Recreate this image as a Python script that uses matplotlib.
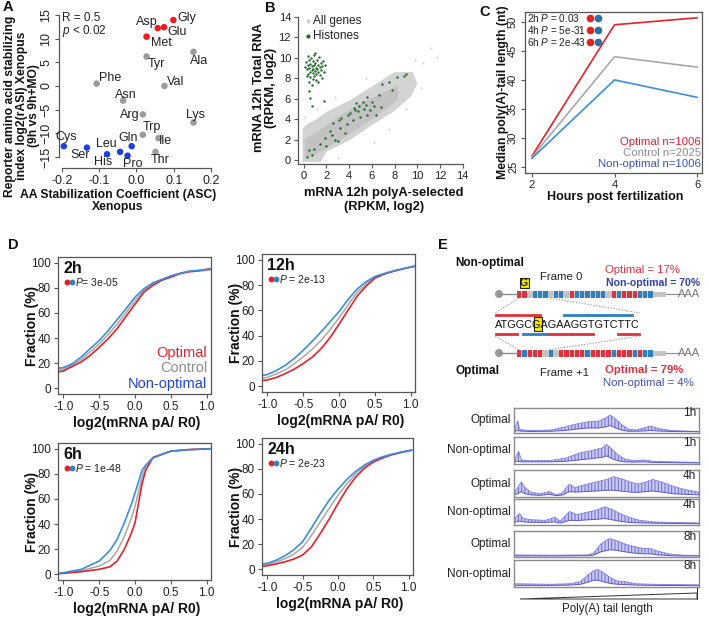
import matplotlib
matplotlib.use('Agg')
import matplotlib.pyplot as plt
from matplotlib.patches import Rectangle, Polygon, Circle

plt.rcParams['font.family'] = ['Liberation Sans', 'DejaVu Sans']
plt.rcParams['mathtext.fontset'] = 'custom'
plt.rcParams['mathtext.rm'] = 'Liberation Sans'
plt.rcParams['mathtext.it'] = 'Liberation Sans:italic'
plt.rcParams['mathtext.bf'] = 'Liberation Sans:bold'
plt.rcParams['hatch.linewidth'] = 0.7
plt.rcParams['hatch.color'] = '#6a6ad8'

W, H = 709, 618

# ---------------- data ----------------
# A: amino acid stabilization
aa_names = ['Gly', 'Asp', 'Glu', 'Met', 'Ala', 'Tyr', 'Phe', 'Val', 'Asn', 'Arg',
            'Lys', 'Trp', 'Ile', 'Thr', 'Cys', 'Ser', 'Gln', 'Leu', 'His', 'Pro']
aa_asc = [0.099, 0.057, 0.074, 0.027, 0.153, 0.027, -0.107, 0.075, -0.036, 0.017,
          0.153, 0.017, 0.059, 0.051, -0.195, -0.133, -0.013, -0.044, -0.079, -0.024]
aa_rasi = [13.9, 12.2, 12.4, 10.4, 7.2, 6.2, 0.5, 0.0, -3.1, -6.0,
           -7.7, -10.3, -11.0, -13.9, -12.7, -13.0, -12.7, -13.9, -14.4, -14.7]
aa_group = ['opt'] * 4 + ['mid'] * 10 + ['non'] * 6

# B: gray cloud outline (all genes) and histone genes
cloud_outer = [(-0.1, -0.2), (1.5, -0.2), (2.0, 0.8), (4.0, 1.9), (6.0, 3.4), (8.0, 4.8),
               (9.5, 6.3), (10.0, 7.5), (9.6, 8.6), (8.0, 8.6), (6.0, 7.2), (4.0, 5.8),
               (2.0, 4.7), (1.0, 3.9), (0.2, 3.4), (-0.1, 3.0)]
cloud_core = [(0.1, 0.1), (1.0, 0.5), (3.0, 1.8), (5.0, 3.2), (7.0, 4.8), (8.3, 5.9),
              (8.3, 7.3), (7.0, 6.6), (5.0, 5.5), (3.0, 4.2), (1.0, 2.6), (0.1, 2.0)]
gray_x = [10.5, 11.2, 9.8, 10.3, 0.1, 1.2, 2.8, 5.5, 6.2, 7.5, 3.0, 11.7, 9.0, 0.5]
gray_y = [9.5, 11.0, 9.8, 7.0, 4.2, 5.0, 6.2, 8.0, 1.8, 3.0, 0.2, 10.1, 5.0, 3.6]
hist_x = [0.2, 0.3, 0.35, 0.4, 0.45, 0.5, 0.55, 0.6, 0.6, 0.65, 0.7, 0.75, 0.8, 0.8, 0.85,
          0.9, 0.9, 0.95, 1.0, 1.0, 1.05, 1.1, 1.15, 1.2, 1.25, 1.3, 1.35, 1.4, 1.45, 1.5,
          1.55, 1.6, 1.7, 1.75, 0.25, 0.5, 0.7, 1.1, 1.3, 0.4, 1.0, 0.8, 1.6, 0.15, 1.85,
          0.6, 1.75, 0.7, 0.5,
          0.3, 0.5, 0.9, 0.7, 1.4, 1.9, 2.3, 2.6, 2.5, 3.0, 3.2, 3.3, 3.6, 3.8, 3.9, 4.1,
          4.3, 4.4, 4.6, 4.8, 4.9, 5.0, 5.2, 5.3, 5.5, 5.6, 5.8, 6.0, 6.2, 6.4, 6.6, 6.8,
          6.9, 7.5, 7.8, 8.2, 8.8, 9.0, 2.0, 2.8, 3.1, 4.5, 5.6]
hist_y = [9.6, 8.9, 9.3, 8.4, 9.8, 9.0, 8.6, 9.4, 8.1, 10.0, 8.8, 9.2, 8.5, 9.7, 8.9,
          9.3, 8.2, 10.3, 8.7, 9.5, 9.0, 8.4, 9.8, 8.9, 9.3, 8.6, 10.1, 9.1, 8.3, 9.5,
          8.8, 9.2, 9.7, 8.6, 8.2, 7.6, 7.3, 7.8, 7.6, 10.2, 10.5, 7.9, 8.0, 9.1, 9.3,
          6.1, 5.8, 5.3, 6.8,
          0.3, 1.0, 1.1, 0.5, 1.6, 2.1, 2.8, 3.6, 2.4, 1.9, 3.1, 4.1, 2.6, 3.5, 4.4, 4.6,
          3.9, 5.1, 5.6, 4.8, 5.3, 4.2, 5.7, 5.0, 5.4, 6.2, 4.9, 5.7, 5.3, 4.4, 6.4, 5.2,
          7.4, 7.6, 6.9, 8.1, 8.2, 8.4, 1.4, 2.0, 3.9, 4.9, 4.4]

# C: median poly(A) tail length
hpf = [2, 4, 6]
med_opt = [26.9, 49.5, 50.7]
med_ctrl = [26.7, 44.0, 42.2]
med_non = [26.5, 40.0, 37.0]
c_hours = ['2h', '4h', '6h']
c_pvals = ['0.03', '5e-31', '2e-43']
c_groups = ['Optimal n=1006', 'Control n=2025', 'Non-optimal n=1006']

# D: cumulative distributions
d_titles = ['2h', '12h', '6h', '24h']
d_pvals = ['$P$= 3e-05', '$P$ = 2e-13', '$P$ = 1e-48', '$P$ = 2e-23']
d_x = [
    [-1.08, -1.0, -0.875, -0.75, -0.625, -0.5, -0.375, -0.25, -0.125, 0, 0.125, 0.25, 0.375, 0.5, 0.625, 0.75, 0.875, 1.0, 1.05],
    [-1.07, -1.0, -0.875, -0.75, -0.625, -0.5, -0.375, -0.25, -0.125, 0, 0.125, 0.25, 0.375, 0.5, 0.625, 0.75, 0.875, 1.0, 1.07],
    [-1.08, -1.0, -0.75, -0.5, -0.35, -0.25, -0.15, -0.05, 0, 0.05, 0.1, 0.15, 0.25, 0.5, 0.75, 1.0, 1.08],
    [-1.075, -1.0, -0.875, -0.75, -0.625, -0.5, -0.375, -0.25, -0.125, 0, 0.125, 0.25, 0.375, 0.5, 0.625, 0.75, 0.875, 1.0, 1.04],
]
d_opt = [
    [13, 13.8, 17.5, 21, 26.3, 32.6, 39.5, 47.5, 57.3, 67, 76.6, 82, 86, 88.5, 91.2, 92.8, 93.5, 94.7, 95.2],
    [4.5, 5, 7, 10, 13.5, 18, 23, 29.7, 38.5, 49, 60, 71, 79, 85.4, 88.5, 90.7, 92.5, 94.2, 95],
    [0.5, 0.8, 2.1, 4, 6, 10.6, 19.8, 33, 41, 57, 72.8, 83, 93, 98, 99.2, 99.8, 100],
    [2.3, 2.9, 4.3, 6, 8.2, 11.4, 18, 28.6, 40, 52.4, 64, 73.5, 80.5, 85.4, 88.5, 91, 92.8, 94.2, 94.7],
]
d_ctrl = [
    [14.5, 15.2, 18.5, 23, 29, 35.3, 42.8, 51, 60.3, 69.8, 78, 83, 86.3, 89, 91.2, 92.7, 93.2, 93.8, 94.2],
    [6.5, 7, 9.8, 13, 17.8, 23.2, 29.3, 36.3, 44.7, 54, 64.2, 74, 80.7, 86, 88.8, 90.8, 92.6, 94.2, 95],
    [0.6, 1, 3, 6.6, 11, 18.5, 30, 45, 54, 66, 78, 86, 92.8, 98, 99.2, 99.8, 100],
    [3.3, 4, 5.8, 8.5, 12, 17.5, 27, 37.8, 48.5, 59, 68, 76, 82, 86, 89, 91.2, 92.9, 94.3, 94.8],
]
d_non = [
    [16, 16.5, 19.6, 25, 31.6, 38, 46, 54.6, 63.4, 72.6, 79.3, 84, 86.7, 89.5, 91.5, 93.2, 93.8, 94.5, 95],
    [8.5, 9.3, 12.5, 16.5, 22, 28.4, 35.5, 43, 51, 59, 68.5, 76.7, 82.5, 86.7, 89, 91, 92.7, 94.2, 95],
    [0.7, 1.3, 4, 10.6, 19, 27.8, 41, 56, 64.8, 74, 83, 87, 92.6, 98, 99.2, 99.8, 100],
    [4.3, 4.8, 7.3, 10.8, 15.5, 22, 33, 44.4, 55, 63.8, 71.5, 78, 83, 86.8, 89.5, 91.5, 93, 94.5, 95],
]

# E: codon schematic
codons_frame0 = ['r', 'r', 'g', 'b', 'b', 'b', 'g', 'b', 'b', 'g', 'r', 'b', 'b',
                 'b', 'b', 'b', 'b', 'g', 'r', 'b', 'r', 'r', 'r', 'b', 'b', 'b']
codons_frame1 = ['r', 'b', 'r', 'r', 'r', 'g', 'b', 'g', 'r', 'r', 'r', 'r', 'r',
                 'b', 'r', 'r', 'r', 'r', 'b', 'r', 'r', 'r', 'b', 'r', 'b', 'b']
seq = 'ATGGCGAGAAGGTGTCTTC'
bars_top = [(0, 3, 'r'), (3, 6, 'r'), (9, 12, 'b'), (12, 15, 'b'), (15, 18, 'b')]
bars_bot = [(0, 3, 'r'), (3.5, 7, 'b'), (7, 10, 'r'), (10, 13, 'r'), (16, 19, 'r')]

# E: poly(A) tail profiles
trace_labels = ['Optimal', 'Non-optimal', 'Optimal', 'Non-optimal', 'Optimal', 'Non-optimal']
trace_hours = ['1h', '1h', '4h', '4h', '8h', '8h']
trace_x = [
    [0, 2, 3, 5, 10, 20, 28, 33, 40, 46, 50, 52, 55, 58, 62, 66, 70, 74, 78, 85, 100],
    [0, 2.5, 4, 8, 20, 28, 35, 42, 48, 50, 53, 56, 60, 65, 70, 75, 85, 100],
    [0, 2, 4, 6, 9, 14, 19, 23, 26, 30, 33, 38, 44, 50, 54, 58, 63, 67, 71, 75, 80, 86, 92, 100],
    [0, 3, 5, 10, 17, 22, 25, 30, 34, 40, 45, 49, 53, 57, 62, 68, 75, 85, 100],
    [0, 20, 40, 43, 47, 50, 52, 56, 60, 65, 70, 74, 78, 85, 92, 100],
    [0, 20, 30, 36, 40, 43, 45, 48, 52, 56, 60, 66, 75, 100],
]
trace_up = [
    [0.08, 0.5, 0.15, 0.12, 0.1, 0.12, 0.25, 0.35, 0.45, 0.48, 0.62, 0.72, 0.55, 0.35, 0.15, 0.12, 0.2, 0.28, 0.18, 0.1, 0.06],
    [0.1, 0.48, 0.15, 0.12, 0.13, 0.22, 0.4, 0.5, 0.6, 0.73, 0.55, 0.35, 0.18, 0.12, 0.15, 0.1, 0.08, 0.06],
    [0.15, 0.35, 0.56, 0.35, 0.18, 0.12, 0.2, 0.08, 0.15, 0.48, 0.35, 0.45, 0.55, 0.65, 0.75, 0.68, 0.55, 0.48, 0.55, 0.65, 0.55, 0.4, 0.28, 0.18],
    [0.2, 0.45, 0.25, 0.2, 0.18, 0.3, 0.15, 0.52, 0.4, 0.5, 0.58, 0.7, 0.6, 0.45, 0.3, 0.18, 0.12, 0.1, 0.08],
    [0.08, 0.07, 0.08, 0.15, 0.5, 0.65, 0.71, 0.62, 0.5, 0.4, 0.33, 0.32, 0.22, 0.1, 0.07, 0.06],
    [0.12, 0.1, 0.12, 0.2, 0.45, 0.6, 0.65, 0.55, 0.35, 0.22, 0.2, 0.12, 0.1, 0.08],
]
trace_lo = [
    [0.05, 0.1, 0.08, 0.07, 0.06, 0.07, 0.1, 0.15, 0.2, 0.2, 0.25, 0.3, 0.2, 0.12, 0.07, 0.07, 0.08, 0.1, 0.08, 0.06, 0.05],
    [0.07, 0.1, 0.08, 0.08, 0.08, 0.1, 0.15, 0.2, 0.25, 0.3, 0.2, 0.12, 0.08, 0.07, 0.08, 0.06, 0.05, 0.04],
    [0.08, 0.12, 0.2, 0.12, 0.08, 0.06, 0.1, 0.05, 0.07, 0.2, 0.18, 0.2, 0.22, 0.25, 0.25, 0.22, 0.18, 0.17, 0.2, 0.22, 0.18, 0.12, 0.1, 0.08],
    [0.1, 0.15, 0.12, 0.1, 0.1, 0.12, 0.07, 0.18, 0.17, 0.2, 0.22, 0.25, 0.2, 0.15, 0.1, 0.08, 0.07, 0.06, 0.05],
    [0.04, 0.04, 0.05, 0.07, 0.2, 0.25, 0.28, 0.25, 0.2, 0.15, 0.12, 0.12, 0.08, 0.05, 0.04, 0.04],
    [0.06, 0.06, 0.07, 0.1, 0.18, 0.25, 0.25, 0.2, 0.13, 0.1, 0.09, 0.07, 0.06, 0.05],
]

# ---------------- style ----------------
RED = '#e8202a'
GRAY = '#a8a8a8'
LBLUE = '#3a8fe0'
A_COL = {'opt': '#ee1c1c', 'mid': '#9b9b9b', 'non': '#1f3fe6'}
CODON_COL = {'r': '#e0323c', 'b': '#2f7fc1', 'g': '#c4c4c4'}
SPINE = '#555555'
TXT = '#222222'


def box(l, t, r, b):
    return [l / W, 1 - b / H, (r - l) / W, (b - t) / H]


def style_ticks(ax, size=8):
    ax.tick_params(length=3, width=0.8, colors=SPINE, labelcolor=TXT, labelsize=size, pad=2)
    for s in ax.spines.values():
        s.set_color(SPINE)
        s.set_linewidth(0.9)


fig = plt.figure(figsize=(W / 100, H / 100), dpi=100)

# ---------------- A ----------------
axA = fig.add_axes(box(59, 12, 211, 168))
axA.scatter(aa_asc, aa_rasi, c=[A_COL[g] for g in aa_group], s=22, zorder=3, linewidths=0)
lab_pos = {'Gly': (0.135, 14.3), 'Asp': (0.027, 13.4), 'Glu': (0.108, 11.3), 'Met': (0.066, 9.1),
           'Ala': (0.169, 5.3), 'Tyr': (0.054, 4.6), 'Phe': (-0.071, 1.6), 'Val': (0.106, 0.74),
           'Asn': (-0.028, -1.9), 'Arg': (-0.018, -6.2), 'Lys': (0.158, -6.2), 'Trp': (0.041, -8.6),
           'Ile': (0.077, -11.6), 'Thr': (0.063, -15.7), 'Cys': (-0.188, -10.8), 'Ser': (-0.152, -14.5),
           'Gln': (-0.022, -10.9), 'Leu': (-0.080, -12.3), 'His': (-0.089, -16.1), 'Pro': (-0.009, -16.4)}
for name in aa_names:
    lx, ly = lab_pos[name]
    axA.text(lx, ly, name, ha='center', va='center', fontsize=9, color=TXT)
axA.text(-0.2, 14.4, 'R = 0.5', fontsize=8.5, va='center', color=TXT)
axA.text(-0.2, 11.6, '$p$ < 0.02', fontsize=8.5, va='center', color=TXT)
axA.set_xlim(-0.208, 0.2)
axA.set_ylim(-17.3, 15.6)
axA.spines[['top', 'right']].set_visible(False)
axA.spines['left'].set_bounds(-15, 15)
axA.spines['bottom'].set_bounds(-0.2, 0.2)
axA.set_xticks([-0.2, -0.1, 0.0, 0.1, 0.2], ['-0.2', '-0.1', '0.0', '0.1', '0.2'])
axA.set_yticks([-15, -10, -5, 0, 5, 10, 15])
style_ticks(axA, 9)
plt.setp(axA.get_yticklabels(), rotation=90, va='center')

# ---------------- B ----------------
axB = fig.add_axes(box(298, 15, 465, 164))
axB.add_patch(Polygon(cloud_outer, closed=True, facecolor='#d3d3d3', edgecolor='none', zorder=1))
axB.add_patch(Polygon(cloud_core, closed=True, facecolor='#c2c2c2', edgecolor='none', zorder=1))
axB.scatter(gray_x, gray_y, s=2, color='#cfcfcf', zorder=1, linewidths=0)
axB.scatter(hist_x, hist_y, s=3, color='#1f6b2a', zorder=3, linewidths=0)
axB.scatter([0.38], [13.6], s=9, color='#d0d0d0', linewidths=0)
axB.scatter([0.38], [12.1], s=9, color='#1f6b2a', linewidths=0)
axB.text(0.85, 13.6, 'All genes', fontsize=8.5, va='center', color=TXT)
axB.text(0.85, 12.1, 'Histones', fontsize=8.5, va='center', color=TXT)
axB.set_xlim(-0.5, 14.2)
axB.set_ylim(-0.4, 14.2)
axB.spines[['top', 'right']].set_visible(False)
axB.spines['left'].set_bounds(-0.4, 14)
axB.spines['bottom'].set_bounds(-0.5, 14)
axB.set_xticks(range(0, 15, 2))
axB.set_yticks(range(0, 15, 2))
style_ticks(axB, 8)

# ---------------- C ----------------
axC = fig.add_axes(box(525, 12, 702, 173))
axC.plot(hpf, med_opt, color=RED, lw=1.2)
axC.plot(hpf, med_ctrl, color=GRAY, lw=1.2)
axC.plot(hpf, med_non, color=LBLUE, lw=1.2)
axC.set_xlim(1.83, 6.12)
axC.set_ylim(23.96, 51.7)
axC.set_xticks(hpf)
axC.set_yticks([25, 30, 35, 40, 45, 50])
style_ticks(axC, 8)
plt.setp(axC.get_yticklabels(), rotation=90, va='center')
for i, (hr, pv) in enumerate(zip(c_hours, c_pvals)):
    yy = 0.96 - i * 0.072
    axC.text(0.01, yy, hr + ' $P$ = ' + pv, transform=axC.transAxes, fontsize=7.2, va='center', color=TXT)
    axC.plot([0.37], [yy], 'o', ms=4.5, color='#e82020', transform=axC.transAxes, clip_on=False)
    axC.plot([0.415], [yy], 'o', ms=4.5, color='#2f6ea5', transform=axC.transAxes, clip_on=False)
for i, (g, col) in enumerate(zip(c_groups, [RED, '#8c8c8c', '#3554c4'])):
    axC.text(0.995, 0.19 - i * 0.066, g, transform=axC.transAxes, fontsize=8.2,
             ha='right', va='center', color=col)

# ---------------- D ----------------
d_boxes = [(58, 257, 211, 394), (262, 254, 415, 392), (58, 443, 211, 580), (262, 438, 413, 575)]
for k, (l, t, r, b) in enumerate(d_boxes):
    ax = fig.add_axes(box(l, t, r, b))
    ax.plot(d_x[k], d_ctrl[k], color=GRAY, lw=1.1)
    ax.plot(d_x[k], d_opt[k], color=RED, lw=1.2)
    ax.plot(d_x[k], d_non[k], color=LBLUE, lw=1.2)
    ax.set_xlim(-1.075, 1.06)
    ax.set_ylim(-4.5, 104.5)
    ax.set_xticks([-1.0, -0.5, 0.0, 0.5, 1.0], ['-1.0', '-0.5', '0.0', '0.5', '1.0'])
    ax.set_yticks([0, 20, 40, 60, 80, 100])
    style_ticks(ax, 8.5)
    ax.text(0.035, 0.915, d_titles[k], transform=ax.transAxes, fontsize=11.5,
            fontweight='bold', va='center', color='#111111')
    ax.plot([0.057], [0.82], 'o', ms=3.2, color='#e82020', transform=ax.transAxes)
    ax.plot([0.09], [0.82], 'o', ms=3.2, color='#3a7fc0', transform=ax.transAxes)
    ax.text(0.11, 0.82, d_pvals[k], transform=ax.transAxes, fontsize=7.5, va='center', color=TXT)
    if k == 0:
        for i, (g, col) in enumerate(zip(['Optimal', 'Control', 'Non-optimal'],
                                         [RED, '#8c8c8c', '#2040e0'])):
            ax.text(0.975, 0.30 - i * 0.113, g, transform=ax.transAxes, fontsize=10.5,
                    ha='right', va='center', color=col)

# ---------------- E traces ----------------
trace_boxes = [(408, 433), (437, 464), (470, 497), (499, 525), (531, 557), (560, 587)]
for k, (t, b) in enumerate(trace_boxes):
    ax = fig.add_axes(box(514, t, 699, b))
    ax.fill_between(trace_x[k], trace_lo[k], trace_up[k], facecolor='#c9c9f3',
                    edgecolor='#6a6ad8', hatch='|||||', linewidth=0)
    ax.plot(trace_x[k], trace_up[k], color='#8080e0', lw=0.6)
    ax.plot(trace_x[k], trace_lo[k], color='#5a5ad0', lw=0.7)
    ax.set_xlim(0, 100)
    ax.set_ylim(0, 1)
    ax.set_xticks([])
    ax.set_yticks([])
    for s in ax.spines.values():
        s.set_color('#8a8a8a')
        s.set_linewidth(1.0)
    ax.text(0.985, 0.78, trace_hours[k], transform=ax.transAxes, ha='right', va='center',
            fontsize=8.5, color=TXT)

# ---------------- overlay (pixel coordinates) ----------------
ov = fig.add_axes([0, 0, 1, 1], zorder=10)
ov.set_xlim(0, W)
ov.set_ylim(H, 0)
ov.axis('off')


def T(x, y, s, **kw):
    kw.setdefault('color', TXT)
    ov.text(x, y, s, **kw)


for letter, (x, y) in {'A': (3, 7), 'B': (265, 8), 'C': (479, 12), 'D': (8, 245), 'E': (438, 245)}.items():
    T(x, y, letter, fontsize=10.5, fontweight='bold', va='center', color='#111111')

bold = dict(fontweight='bold', ha='center', va='center', color='#111111')
T(22, 106, 'Reporter amino acid stabilizing\nindex log2(rASI) Xenopus\n(9h vs 9h+MO)',
  rotation=90, fontsize=8.7, linespacing=1.05, **bold)
T(118, 201, 'AA Stabilization Coefficient (ASC)\nXenopus', fontsize=8.7, linespacing=1.1, **bold)
T(265, 88, 'mRNA 12h Total RNA\n(RPKM, log2)', rotation=90, fontsize=9.3, linespacing=1.05, **bold)
T(384, 200, 'mRNA 12h polyA-selected\n(RPKM, log2)', fontsize=9.3, linespacing=1.15, **bold)
T(503, 92, 'Median poly(A)-tail length (nt)', rotation=90, fontsize=8.8, **bold)
T(615, 197, 'Hours post fertilization', fontsize=9, **bold)
for (l, t, r, b) in d_boxes:
    T(l - 26, (t + b) / 2, 'Fraction (%)', rotation=90, fontsize=10, **bold)
    T((l + r) / 2 + 2, b + 29, 'log2(mRNA pA/ R0)', fontsize=10, **bold)

# E schematic
T(455, 263, 'Non-optimal', fontsize=8.5, fontweight='bold', va='center', color='#111111')
T(455, 371, 'Optimal', fontsize=8.5, fontweight='bold', va='center', color='#111111')
T(561, 277, 'Frame 0', fontsize=8.2, ha='center', va='center')
T(564, 373, 'Frame +1', fontsize=8.2, ha='center', va='center')
T(605, 270, 'Optimal = 17%', fontsize=8.2, va='center', color='#e0323c')
T(606, 283, 'Non-optimal = 70%', fontsize=7.6, fontweight='bold', va='center', color='#3040b0')
T(605, 370, 'Optimal = 79%', fontsize=8.2, fontweight='bold', va='center', color='#e0323c')
T(603, 383, 'Non-optimal = 4%', fontsize=8.2, va='center', color='#4050c8')


def strip(y, codons):
    x0, cw = 517, 5.25
    end = x0 + cw * len(codons) + 12
    ov.add_patch(Rectangle((x0, y - 2.5), end - x0, 5, facecolor='#c4c4c4', edgecolor='none'))
    for i, c in enumerate(codons):
        ov.add_patch(Rectangle((x0 + i * cw, y - 3.5), cw - 1.0, 7, facecolor=CODON_COL[c],
                               edgecolor='none'))
    ov.plot([499, x0], [y, y], color='#8a8a8a', lw=1)
    ov.add_patch(Circle((499, y), 3.3, color='#9a9a9a'))
    ov.plot([end, end + 13], [y, y], color='#8a8a8a', lw=0.8)
    T(end + 12, y, 'AAA', fontsize=8, va='center', color='#777777')


strip(294, codons_frame0)
strip(353, codons_frame1)

# G insertion mark
ov.add_patch(Rectangle((519.5, 278), 9, 10, facecolor='#f2e600', edgecolor='#222222', lw=0.8))
T(524, 283.5, 'G', fontsize=7.5, fontweight='bold', ha='center', va='center')

sx0, sw = 495, 7.63
ov.add_patch(Rectangle((sx0 + 5 * sw + 0.5, 317), sw + 0.5, 14, facecolor='#f2e600',
                       edgecolor='#222222', lw=0.8))
T(sx0, 324.5, seq, fontsize=7.8, ha='left', va='center', color='#111111')
for a, b, c in bars_top:
    ov.plot([sx0 + a * sw + 0.8, sx0 + b * sw - 0.8], [315, 315], color=CODON_COL[c], lw=2)
for a, b, c in bars_bot:
    ov.plot([sx0 + a * sw + 0.8, sx0 + b * sw - 0.8], [334, 334], color=CODON_COL[c], lw=2)

dot = dict(color='#9a9a9a', lw=0.7, ls=(0, (1.5, 1.5)))
ov.plot([519, 495], [298, 313], **dot)
ov.plot([550, 640], [298, 313], **dot)
ov.plot([495, 519], [336, 350], **dot)
ov.plot([640, 548], [336, 350], **dot)

for k, (t, b) in enumerate(trace_boxes):
    T(511, (t + b) / 2, trace_labels[k], fontsize=8.5, ha='right', va='center')

ov.add_patch(Polygon([(520, 599), (697, 599), (697, 593)], closed=True, facecolor='none',
                     edgecolor='#333333', lw=0.7))
ov.plot([697, 697], [588, 599], color='#333333', lw=0.7)
T(607, 609, 'Poly(A) tail length', fontsize=8.3, ha='center', va='center')

fig.savefig('out.png', dpi=100)
